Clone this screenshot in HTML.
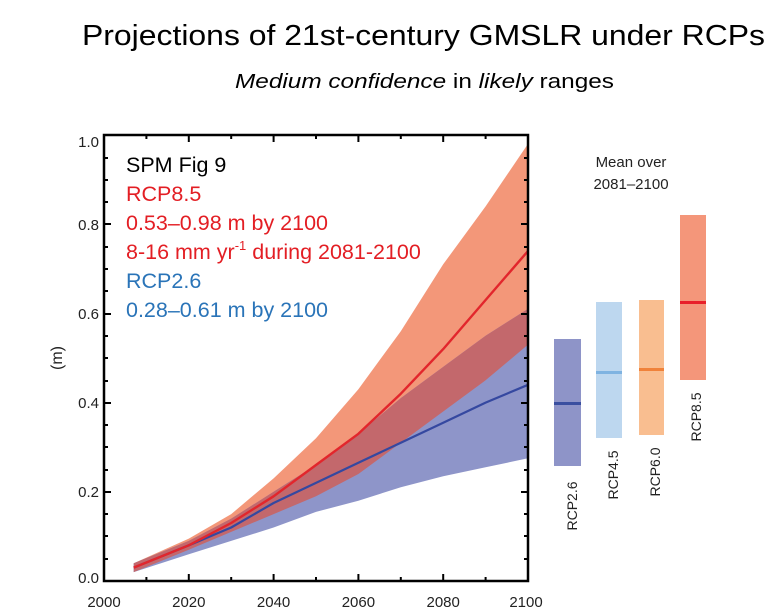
<!DOCTYPE html>
<html><head><meta charset="utf-8"><style>
html,body{margin:0;padding:0;background:#fff;}
svg{display:block;font-family:"Liberation Sans",sans-serif;}
</style></head><body>
<svg width="784" height="611" viewBox="0 0 784 611" xmlns="http://www.w3.org/2000/svg">
<text x="82" y="45" font-size="29" textLength="683" lengthAdjust="spacingAndGlyphs">Projections of 21st-century GMSLR under RCPs</text>
<text x="235" y="88" font-size="20" textLength="379" lengthAdjust="spacingAndGlyphs"><tspan font-style="italic">Medium  confidence</tspan> in <tspan font-style="italic">likely</tspan> ranges</text>
<defs>
<clipPath id="bc"><path d="M133.7,563.2 L188.8,540.9 L231.2,518.6 L273.6,491.8 L316,465 L358.4,433.8 L400.8,398.1 L443.2,366.9 L485.6,335.7 L528,308.9 L528,458.3 L485.6,467.3 L443.2,476.2 L400.8,487.3 L358.4,500.7 L316,511.9 L273.6,527.5 L231.2,540.9 L188.8,554.2 L133.7,572.1Z"/></clipPath>
</defs>
<path d="M133.7,563.2 L188.8,538.6 L231.2,514.1 L273.6,478.4 L316,438.3 L358.4,389.2 L400.8,331.2 L443.2,264.3 L485.6,206.4 L528,143.9 L528,344.6 L485.6,380.3 L443.2,411.5 L400.8,442.7 L358.4,474 L316,496.3 L273.6,514.1 L231.2,531.9 L188.8,549.8 L133.7,572.1Z" fill="#f39779"/>
<path d="M133.7,563.2 L188.8,540.9 L231.2,518.6 L273.6,491.8 L316,465 L358.4,433.8 L400.8,398.1 L443.2,366.9 L485.6,335.7 L528,308.9 L528,458.3 L485.6,467.3 L443.2,476.2 L400.8,487.3 L358.4,500.7 L316,511.9 L273.6,527.5 L231.2,540.9 L188.8,554.2 L133.7,572.1Z" fill="#8e95c9"/>
<path clip-path="url(#bc)" d="M133.7,563.2 L188.8,538.6 L231.2,514.1 L273.6,478.4 L316,438.3 L358.4,389.2 L400.8,331.2 L443.2,264.3 L485.6,206.4 L528,143.9 L528,344.6 L485.6,380.3 L443.2,411.5 L400.8,442.7 L358.4,474 L316,496.3 L273.6,514.1 L231.2,531.9 L188.8,549.8 L133.7,572.1Z" fill="#c3686c"/>
<polyline points="133.7,567.6 188.8,545.3 231.2,527.5 273.6,503 316,482.9 358.4,462.8 400.8,442.7 443.2,422.7 485.6,402.6 528,384.8" fill="none" stroke="#3548a0" stroke-width="2.2" stroke-linejoin="round"/>
<polyline points="133.7,567.6 188.8,545.3 231.2,523 273.6,496.3 316,465 358.4,433.8 400.8,393.7 443.2,349.1 485.6,300 528,251" fill="none" stroke="#e2262c" stroke-width="2.4" stroke-linejoin="round"/>
<rect x="104" y="135" width="424" height="446" fill="none" stroke="#000" stroke-width="2.5"/>
<g stroke="#000" stroke-width="2">
<path d="M104,492h7M104,403h7M104,314h7M104,224h7M528,492h-7M528,403h-7M528,314h-7M528,224h-7"/>
<path d="M104,559h4M104,536h4M104,514h4M104,470h4M104,447h4M104,425h4M104,381h4M104,358h4M104,336h4M104,291h4M104,269h4M104,247h4M104,202h4M104,180h4M104,158h4M528,559h-4M528,536h-4M528,514h-4M528,470h-4M528,447h-4M528,425h-4M528,381h-4M528,358h-4M528,336h-4M528,291h-4M528,269h-4M528,247h-4M528,202h-4M528,180h-4M528,158h-4"/>
<path d="M188.8,581v-7M273.6,581v-7M358.4,581v-7M443.2,581v-7M188.8,135v7M273.6,135v7M358.4,135v7M443.2,135v7"/>
<path d="M146.4,581v-4M231.2,581v-4M316,581v-4M400.8,581v-4M485.6,581v-4M146.4,135v4M231.2,135v4M316,135v4M400.8,135v4M485.6,135v4"/>
</g>
<g font-size="15" fill="#222" text-anchor="end">
<text x="99" y="583">0.0</text><text x="99" y="497">0.2</text><text x="99" y="408">0.4</text><text x="99" y="319">0.6</text><text x="99" y="230">0.8</text><text x="99" y="147">1.0</text>
</g>
<g font-size="15" fill="#222" text-anchor="middle">
<text x="104" y="607">2000</text><text x="188.8" y="607">2020</text><text x="273.6" y="607">2040</text><text x="358.4" y="607">2060</text><text x="443.2" y="607">2080</text><text x="526" y="607">2100</text>
</g>
<text transform="translate(62,358) rotate(-90)" font-size="16" text-anchor="middle" fill="#222">(m)</text>
<g font-size="21.5">
<text x="126" y="172" fill="#000">SPM Fig 9</text>
<text x="126" y="201" fill="#e31e24">RCP8.5</text>
<text x="126" y="230" fill="#e31e24">0.53–0.98 m by 2100</text>
<text x="126" y="259" fill="#e31e24">8-16 mm yr<tspan font-size="13" dy="-9">-1</tspan><tspan dy="9"> during 2081-2100</tspan></text>
<text x="126" y="288" fill="#2a74b8">RCP2.6</text>
<text x="126" y="317" fill="#2a74b8">0.28–0.61 m by 2100</text>
</g>
<g font-size="15" fill="#222" text-anchor="middle">
<text x="631" y="167">Mean over</text><text x="631" y="189">2081–2100</text>
</g>
<rect x="554" y="339" width="27" height="127" fill="#8e94c8"/>
<rect x="554" y="402" width="27" height="3" fill="#3a4fa0"/>
<rect x="596" y="302" width="26" height="136" fill="#bdd7ef"/>
<rect x="596" y="371" width="26" height="3" fill="#7fb3e1"/>
<rect x="639" y="300" width="25" height="135" fill="#f9be90"/>
<rect x="639" y="368" width="25" height="3" fill="#f0823a"/>
<rect x="680" y="215" width="26" height="165" fill="#f4967a"/>
<rect x="680" y="301" width="26" height="3" fill="#e8202a"/>
<g font-size="14" fill="#222" text-anchor="middle">
<text transform="translate(577,506) rotate(-90)">RCP2.6</text>
<text transform="translate(618,475) rotate(-90)">RCP4.5</text>
<text transform="translate(660,472) rotate(-90)">RCP6.0</text>
<text transform="translate(701,417) rotate(-90)">RCP8.5</text>
</g>
</svg>
</body></html>
